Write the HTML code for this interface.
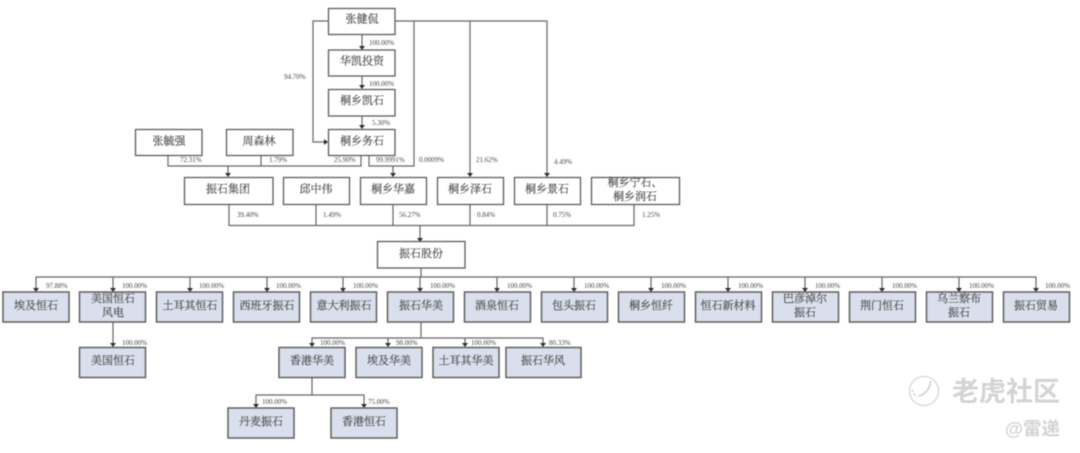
<!DOCTYPE html>
<html><head><meta charset="utf-8">
<style>
html,body{margin:0;padding:0;background:#fff;width:1080px;height:453px;overflow:hidden}
svg{display:block;position:absolute;left:0;top:0}
#d{filter:blur(.55px)}
.b{fill:#fff;stroke:#5c5c5c;stroke-width:1.3}
.f{fill:#d9dfec;stroke:#5f5f5f;stroke-width:1.5}
.l{fill:none;stroke:#666;stroke-width:1.2}
.a{fill:#2e2e2e}
.t{font-family:"Liberation Serif","Noto Serif CJK SC",serif;font-size:11px;fill:#4d4d4d;stroke:#4d4d4d;stroke-width:.18;text-anchor:middle;dominant-baseline:central}
.p{font-family:"Liberation Serif",serif;font-size:7px;fill:#444}
.w{font-family:"Liberation Sans","Noto Sans CJK SC",sans-serif;font-weight:bold;fill:#d4d4d4}
</style></head><body>
<svg id="d" width="1080" height="453" viewBox="0 0 1080 453" xmlns="http://www.w3.org/2000/svg">
<!-- connectors -->
<path class="l" d="M328 21H313V142H324"/>
<path class="l" d="M395 21H547V173M470 21V173M414 21V166H369V156M393 166V173"/>
<path class="l" d="M362 34V46M362 76V85M362 116V125"/>
<path class="l" d="M168 156V166H361V156M261 156V166M228 166V173"/>
<path class="l" d="M229 204V225.500H634V204M316 204V225M393 204V225M470 204V225M547 204V225M420 225V238"/>
<path class="l" d="M421 268V277M36 288V277H1036V288M113 277V288M190 277V288M267 277V288M343 277V288M420 277V288M497 277V288M574 277V288M651 277V288M728 277V288M805 277V288M882 277V288M959 277V288"/>
<path class="l" d="M113 322V343"/>
<path class="l" d="M421 322V338M312 343V338H543V343M388 338V343M465 338V343"/>
<path class="l" d="M312 377V395M256 404V395H364V404"/>
<!-- arrowheads -->
<g class="a">
<path d="M359 46h6l-3 4zM359 85h6l-3 4zM359 125h6l-3 4z"/>
<path d="M324 139v6l4-3z"/>
<path d="M225 173h6l-3 4zM390 173h6l-3 4zM467 173h6l-3 4zM544 173h6l-3 4zM417 238h6l-3 4z"/>
<path d="M33 288h6l-3 4zM110 288h6l-3 4zM187 288h6l-3 4zM264 288h6l-3 4zM340 288h6l-3 4zM417 288h6l-3 4zM494 288h6l-3 4zM571 288h6l-3 4zM648 288h6l-3 4zM725 288h6l-3 4zM802 288h6l-3 4zM879 288h6l-3 4zM956 288h6l-3 4zM1033 288h6l-3 4z"/>
<path d="M110 343h6l-3 4zM309 343h6l-3 4zM385 343h6l-3 4zM462 343h6l-3 4zM540 343h6l-3 4z"/>
<path d="M253 404h6l-3 4zM361 404h6l-3 4z"/>
</g>
<!-- white boxes -->
<g class="b">
<rect x="328.500" y="8.500" width="66.500" height="26"/>
<rect x="328.500" y="50" width="66.500" height="26"/>
<rect x="328.500" y="89.500" width="66.500" height="26.500"/>
<rect x="328.500" y="129.500" width="66.500" height="26"/>
<rect x="135.500" y="129.500" width="66.500" height="26"/>
<rect x="226.500" y="129.500" width="66.500" height="26"/>
<rect x="184.500" y="177.500" width="88.500" height="27"/>
<rect x="283.500" y="177.500" width="66" height="27"/>
<rect x="360.500" y="177.500" width="66" height="27"/>
<rect x="437.500" y="177.500" width="66" height="27"/>
<rect x="514.500" y="177.500" width="66" height="27"/>
<rect x="591.500" y="177.500" width="88" height="27"/>
<rect x="377.500" y="241.500" width="87.500" height="26.500"/>
</g>
<!-- blue boxes -->
<g class="f">
<rect x="3" y="292" width="66" height="30"/>
<rect x="79.500" y="292" width="66" height="30"/>
<rect x="156.500" y="292" width="66" height="30"/>
<rect x="233.500" y="292" width="66" height="30"/>
<rect x="310.500" y="292" width="66" height="30"/>
<rect x="387.500" y="292" width="66" height="30"/>
<rect x="464.500" y="292" width="66" height="30"/>
<rect x="541.500" y="292" width="66" height="30"/>
<rect x="618.500" y="292" width="66" height="30"/>
<rect x="695.500" y="292" width="66" height="30"/>
<rect x="772.500" y="292" width="66" height="30"/>
<rect x="849.500" y="292" width="66" height="30"/>
<rect x="926.500" y="292" width="66" height="30"/>
<rect x="1003.500" y="292" width="66" height="30"/>
<rect x="79.500" y="347.500" width="66" height="30"/>
<rect x="279" y="347.500" width="66" height="30"/>
<rect x="356" y="347.500" width="66" height="30"/>
<rect x="433" y="347.500" width="66" height="30"/>
<rect x="506" y="347.500" width="75" height="30"/>
<rect x="228" y="408" width="66" height="30"/>
<rect x="331" y="408" width="66" height="30"/>
</g>
<!-- box labels -->
<g class="t">
<text x="362" y="19.500">张健侃</text>
<text x="362" y="61.500">华凯投资</text>
<text x="362" y="101">桐乡凯石</text>
<text x="362" y="141.500">桐乡务石</text>
<text x="169" y="141.500">张毓强</text>
<text x="259" y="141.500">周森林</text>
<text x="228" y="189.500">振石集团</text>
<text x="316" y="189.500">邱中伟</text>
<text x="393" y="189.500">桐乡华嘉</text>
<text x="470" y="189.500">桐乡泽石</text>
<text x="547" y="189.500">桐乡景石</text>
<text x="635" y="183">桐乡宁石、</text>
<text x="635" y="197">桐乡润石</text>
<text x="421" y="254">振石股份</text>
<text x="36" y="306">埃及恒石</text>
<text x="113" y="299">美国恒石</text>
<text x="113" y="313">风电</text>
<text x="190" y="306">土耳其恒石</text>
<text x="267" y="306">西班牙振石</text>
<text x="344" y="306">意大利振石</text>
<text x="421" y="306">振石华美</text>
<text x="497" y="306">酒泉恒石</text>
<text x="574" y="306">包头振石</text>
<text x="651" y="306">桐乡恒纤</text>
<text x="728" y="306">恒石新材料</text>
<text x="805" y="299">巴彦淖尔</text>
<text x="805" y="313">振石</text>
<text x="882" y="306">荆门恒石</text>
<text x="959" y="299">乌兰察布</text>
<text x="959" y="313">振石</text>
<text x="1036" y="306">振石贸易</text>
<text x="113" y="361">美国恒石</text>
<text x="312" y="361">香港华美</text>
<text x="389" y="361">埃及华美</text>
<text x="466" y="361">土耳其华美</text>
<text x="543" y="361">振石华风</text>
<text x="261" y="422">丹麦振石</text>
<text x="364" y="422">香港恒石</text>
</g>
<!-- percentage labels -->
<g class="p">
<text x="369" y="45">100.00%</text>
<text x="369" y="86">100.00%</text>
<text x="372" y="125">5.30%</text>
<text x="284" y="79">94.70%</text>
<text x="180" y="162">72.31%</text>
<text x="269" y="162">1.79%</text>
<text x="334" y="162">25.90%</text>
<text x="376" y="162">99.9991%</text>
<text x="419" y="162">0.0009%</text>
<text x="476" y="162">21.62%</text>
<text x="554" y="164">4.49%</text>
<text x="237" y="217">39.40%</text>
<text x="323" y="217">1.49%</text>
<text x="399" y="217">56.27%</text>
<text x="477" y="217">0.84%</text>
<text x="553" y="217">0.75%</text>
<text x="642" y="217">1.25%</text>
<text x="46" y="288">97.88%</text>
<text x="122" y="288">100.00%</text>
<text x="199" y="288">100.00%</text>
<text x="276" y="288">100.00%</text>
<text x="353" y="288">100.00%</text>
<text x="430" y="288">100.00%</text>
<text x="507" y="288">100.00%</text>
<text x="584" y="288">100.00%</text>
<text x="661" y="288">100.00%</text>
<text x="738" y="288">100.00%</text>
<text x="815" y="288">100.00%</text>
<text x="892" y="288">100.00%</text>
<text x="969" y="288">100.00%</text>
<text x="1045" y="288">100.00%</text>
<text x="122" y="345">100.00%</text>
<text x="320" y="345">100.00%</text>
<text x="396" y="345">98.00%</text>
<text x="471" y="345">100.00%</text>
<text x="549" y="345">80.33%</text>
<text x="262" y="404">100.00%</text>
<text x="368" y="404">75.00%</text>
</g>
<!-- watermark -->
<circle cx="924" cy="391" r="14.500" fill="none" stroke="#d6d6d6" stroke-width="1.3"/>
<path d="M930 381c1 6-4 13-11 15" fill="none" stroke="#cfcfcf" stroke-width="1.6"/>
<path d="M912 390l2 4 4 2" fill="none" stroke="#cfcfcf" stroke-width="1.6" stroke-dasharray="2 2"/>
<text class="w" x="952" y="401" font-size="27" textLength="108" lengthAdjust="spacingAndGlyphs">老虎社区</text>
<text class="w" x="1005" y="435" font-size="18" font-weight="normal" textLength="55" lengthAdjust="spacingAndGlyphs">@雷递</text>
</svg>
</body></html>
